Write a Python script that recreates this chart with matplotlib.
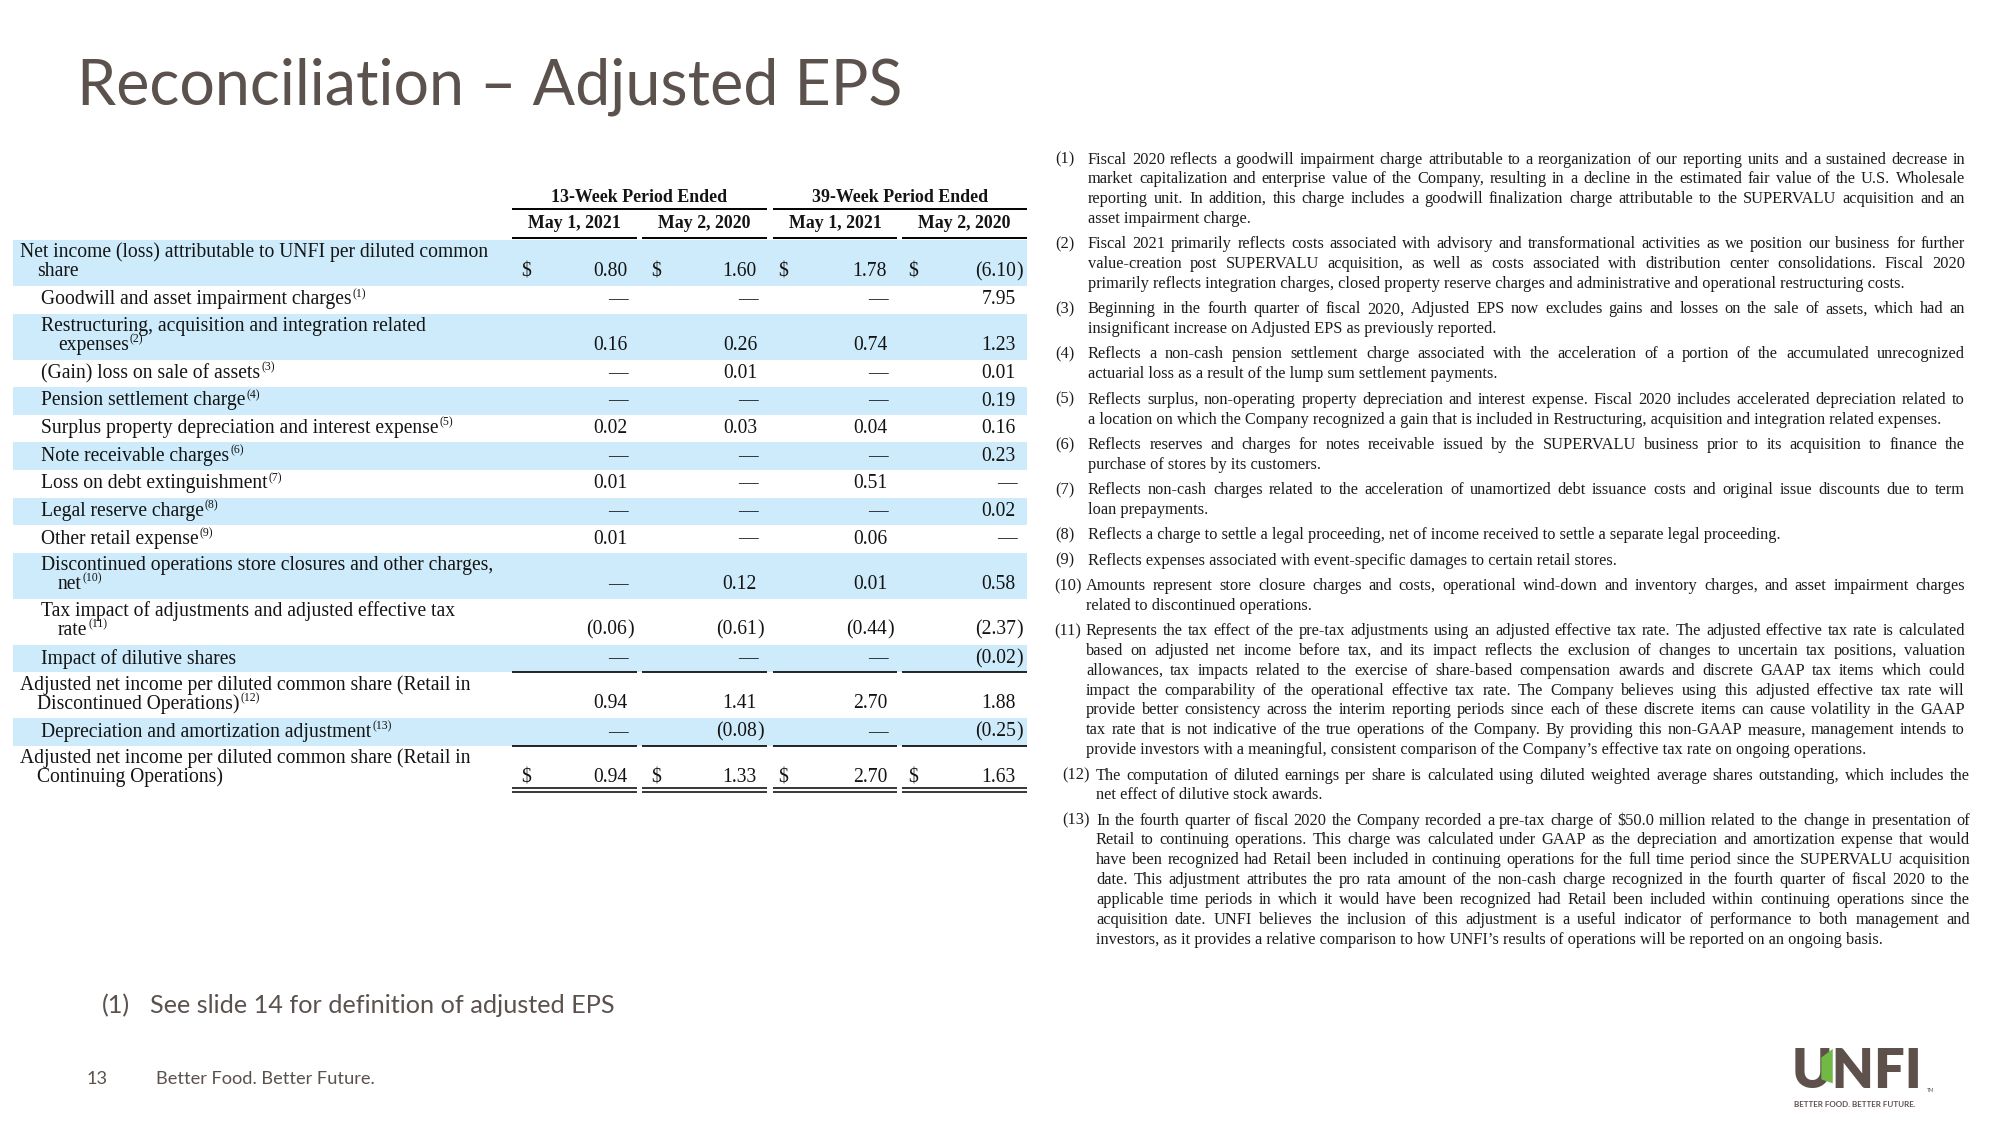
import matplotlib
matplotlib.use("Agg")
import matplotlib.pyplot as plt
from matplotlib.font_manager import FontProperties
from matplotlib.patches import Rectangle, Polygon

# ---- data -------------------------------------------------------------
title = "Reconciliation \u2013 Adjusted EPS"

period_heads = ["13-Week Period Ended", "39-Week Period Ended"]
date_heads = ["May 1, 2021", "May 2, 2020", "May 1, 2021", "May 2, 2020"]

row_labels = [
    "Net income (loss) attributable to UNFI per diluted common\nshare",
    "Goodwill and asset impairment charges",
    "Restructuring, acquisition and integration related\nexpenses",
    "(Gain) loss on sale of assets",
    "Pension settlement charge",
    "Surplus property depreciation and interest expense",
    "Note receivable charges",
    "Loss on debt extinguishment",
    "Legal reserve charge",
    "Other retail expense",
    "Discontinued operations store closures and other charges,\nnet",
    "Tax impact of adjustments and adjusted effective tax\nrate",
    "Impact of dilutive shares",
    "Adjusted net income per diluted common share (Retail in\nDiscontinued Operations)",
    "Depreciation and amortization adjustment",
    "Adjusted net income per diluted common share (Retail in\nContinuing Operations)",
]
row_notes = ["", "1", "2", "3", "4", "5", "6", "7", "8", "9", "10", "11", "", "12", "13", ""]
row_level = [0, 1, 1, 1, 1, 1, 1, 1, 1, 1, 1, 1, 1, 0, 1, 0]

D = "\u2014"
wk13_2021 = ["0.80", D, "0.16", D, D, "0.02", D, "0.01", D, "0.01", D, "(0.06)", D, "0.94", D, "0.94"]
wk13_2020 = ["1.60", D, "0.26", "0.01", D, "0.03", D, D, D, D, "0.12", "(0.61)", D, "1.41", "(0.08)", "1.33"]
wk39_2021 = ["1.78", D, "0.74", D, D, "0.04", D, "0.51", D, "0.06", "0.01", "(0.44)", D, "2.70", D, "2.70"]
wk39_2020 = ["(6.10)", "7.95", "1.23", "0.01", "0.19", "0.16", "0.23", D, "0.02", D, "0.58", "(2.37)", "(0.02)", "1.88", "(0.25)", "1.63"]
dollar_rows = [0, 15]

footnotes = [
    ["Fiscal 2020 reflects a goodwill impairment charge attributable to a reorganization of our reporting units and a sustained decrease in",
     "market capitalization and enterprise value of the Company, resulting in a decline in the estimated fair value of the U.S. Wholesale",
     "reporting unit. In addition, this charge includes a goodwill finalization charge attributable to the SUPERVALU acquisition and an",
     "asset impairment charge."],
    ["Fiscal 2021 primarily reflects costs associated with advisory and transformational activities as we position our business for further",
     "value-creation post SUPERVALU acquisition, as well as costs associated with distribution center consolidations. Fiscal 2020",
     "primarily reflects integration charges, closed property reserve charges and administrative and operational restructuring costs."],
    ["Beginning in the fourth quarter of fiscal 2020, Adjusted EPS now excludes gains and losses on the sale of assets, which had an",
     "insignificant increase on Adjusted EPS as previously reported."],
    ["Reflects a non-cash pension settlement charge associated with the acceleration of a portion of the accumulated unrecognized",
     "actuarial loss as a result of the lump sum settlement payments."],
    ["Reflects surplus, non-operating property depreciation and interest expense. Fiscal 2020 includes accelerated depreciation related to",
     "a location on which the Company recognized a gain that is included in Restructuring, acquisition and integration related expenses."],
    ["Reflects reserves and charges for notes receivable issued by the SUPERVALU business prior to its acquisition to finance the",
     "purchase of stores by its customers."],
    ["Reflects non-cash charges related to the acceleration of unamortized debt issuance costs and original issue discounts due to term",
     "loan prepayments."],
    ["Reflects a charge to settle a legal proceeding, net of income received to settle a separate legal proceeding."],
    ["Reflects expenses associated with event-specific damages to certain retail stores."],
    ["Amounts represent store closure charges and costs, operational wind-down and inventory charges, and asset impairment charges",
     "related to discontinued operations."],
    ["Represents the tax effect of the pre-tax adjustments using an adjusted effective tax rate. The adjusted effective tax rate is calculated",
     "based on adjusted net income before tax, and its impact reflects the exclusion of changes to uncertain tax positions, valuation",
     "allowances, tax impacts related to the exercise of share-based compensation awards and discrete GAAP tax items which could",
     "impact the comparability of the operational effective tax rate. The Company believes using this adjusted effective tax rate will",
     "provide better consistency across the interim reporting periods since each of these discrete items can cause volatility in the GAAP",
     "tax rate that is not indicative of the true operations of the Company. By providing this non-GAAP measure, management intends to",
     "provide investors with a meaningful, consistent comparison of the Company\u2019s effective tax rate on ongoing operations."],
    ["The computation of diluted earnings per share is calculated using diluted weighted average shares outstanding, which includes the",
     "net effect of dilutive stock awards."],
    ["In the fourth quarter of fiscal 2020 the Company recorded a pre-tax charge of $50.0 million related to the change in presentation of",
     "Retail to continuing operations. This charge was calculated under GAAP as the depreciation and amortization expense that would",
     "have been recognized had Retail been included in continuing operations for the full time period since the SUPERVALU acquisition",
     "date. This adjustment attributes the pro rata amount of the non-cash charge recognized in the fourth quarter of fiscal 2020 to the",
     "applicable time periods in which it would have been recognized had Retail been included within continuing operations since the",
     "acquisition date. UNFI believes the inclusion of this adjustment is a useful indicator of performance to both management and",
     "investors, as it provides a relative comparison to how UNFI\u2019s results of operations will be reported on an ongoing basis."],
]

slide_note = "See slide 14 for definition of adjusted EPS"
page_no = "13"
tagline = "Better Food. Better Future."

# ---- styles -----------------------------------------------------------
SERIF = "Liberation Serif"
SANS = "Lato"
GREY = "#5B524E"
INK = "#141414"
BAND = "#CDEBFA"
BROWN = "#5E514C"
LEAF = "#72B844"

W, H = 2000, 1125
fig = plt.figure(figsize=(20, 11.25), dpi=100)
ax = fig.add_axes([0, 0, 1, 1])
ax.set_xlim(0, W)
ax.set_ylim(H, 0)
ax.axis("off")
rend = fig.canvas.get_renderer()


def tw(s, size, family=SERIF, weight="normal"):
    fp = FontProperties(family=family, size=size, weight=weight)
    return rend.get_text_width_height_descent(s, fp, ismath=False)[0]


def fit(s, target, family=SERIF, weight="normal"):
    return 10 * target / tw(s, 10, family, weight)


def txt(x, y, s, size, family=SERIF, **kw):
    kw.setdefault("va", "center")
    kw.setdefault("color", INK)
    return ax.text(x, y, s, fontsize=size, family=family, parse_math=False, **kw)


# ---- slide title and footer ------------------------------------------
ts = fit(title, 826, SANS)
txt(77, 105, title, ts, SANS, va="baseline", color=GREY)

ns = fit(slide_note, 466, SANS)
txt(102, 1013, "(1)", ns, SANS, va="baseline", color=GREY)
txt(150, 1013, slide_note, ns, SANS, va="baseline", color=GREY)

fs = fit(tagline, 220, SANS)
txt(87, 1084, page_no, fs, SANS, va="baseline", color=GREY)
txt(156, 1084, tagline, fs, SANS, va="baseline", color=GREY)

# logo: brown letters, green leaf on the right arm of the U
ub = 1088
ls = fit("UNFI", 131, SANS, "heavy")
txt(1792, ub, "UNFI", ls, SANS, va="baseline", color=BROWN, weight="heavy")
uw = tw("U", ls, SANS, "heavy")
cap = 0.72 * ls * 100 / 72
xl, xr = 1792 + 0.72 * uw, 1792 + 1.0 * uw
ax.add_patch(Polygon([(xl, ub - 0.22 * cap), (xl, ub - 0.78 * cap), (xr, ub - 1.0 * cap),
                      (xr, ub - 0.12 * cap)], closed=True, color=LEAF, lw=0, zorder=5))
txt(1927, 1092, "TM", 3.5, SANS, va="baseline", color=BROWN)
bs = fit("BETTER FOOD. BETTER FUTURE.", 122, SANS, "bold")
txt(1794, 1107, "BETTER FOOD. BETTER FUTURE.", bs, SANS, va="baseline",
    color=BROWN, weight="bold")

# ---- table ------------------------------------------------------------
col_spans = [(512, 637), (642, 767), (773, 897), (902, 1027)]
col_right = [627, 757, 887, 1016]
col_dollar = [521, 651, 778, 908]
columns = [wk13_2021, wk13_2020, wk39_2021, wk39_2020]

hs = fit(period_heads[0], 176, SERIF, "bold")
for k, head in enumerate(period_heads):
    x0, x1 = col_spans[2 * k][0], col_spans[2 * k + 1][1]
    txt((x0 + x1) / 2, 197, head, hs, ha="center", weight="bold")
    ax.plot([x0, x1], [208.5, 208.5], color="black", lw=1.4, solid_capstyle="butt")
for k, head in enumerate(date_heads):
    x0, x1 = col_spans[k]
    txt((x0 + x1) / 2, 223, head, hs, ha="center", weight="bold")
    ax.plot([x0, x1], [237.5, 237.5], color="black", lw=1.4, solid_capstyle="butt")

lab_size = fit("Net income (loss) attributable to UNFI per diluted common", 468)
sup_size = lab_size * 0.6
y = 240
for i, lab in enumerate(row_labels):
    lines = lab.split("\n")
    h = 46 if len(lines) == 2 else 27.6
    if i % 2 == 0:
        ax.add_patch(Rectangle((13, y), 1027 - 13, h, color=BAND, lw=0, zorder=0))
    x_first = 20 if row_level[i] == 0 else 41
    x_cont = x_first + 17
    if len(lines) == 2:
        ys = [y + 12.5, y + 31.5]
    else:
        ys = [y + h / 2]
    for j, (line, ly) in enumerate(zip(lines, ys)):
        lx = x_first if j == 0 else x_cont
        txt(lx, ly, line, lab_size)
    if row_notes[i]:
        sx = (x_first if len(lines) == 1 else x_cont) + tw(lines[-1], lab_size) + 1
        txt(sx, ys[-1] - 6, "(" + row_notes[i] + ")", sup_size)
    vy = ys[-1]
    for c, vals in enumerate(columns):
        v = vals[i]
        if v.startswith("("):
            txt(col_right[c], vy, v[:-1], lab_size, ha="right")
            txt(col_right[c], vy, ")", lab_size, ha="left")
        else:
            txt(col_right[c] + (1 if v == D else 0), vy, v, lab_size, ha="right")
        if i in dollar_rows:
            txt(col_dollar[c], vy, "$", lab_size, ha="left")
    y += h
    # rules below subtotal rows
    if i in (12, 14):
        for x0, x1 in col_spans:
            ax.plot([x0, x1], [y, y], color="black", lw=1.2, solid_capstyle="butt")
    if i == 15:
        for x0, x1 in col_spans:
            for yy in (787.5, 792):
                ax.plot([x0, x1], [yy, yy], color="black", lw=1.1, solid_capstyle="butt")

# ---- footnotes --------------------------------------------------------
full_lines = [p[k] for p in footnotes for k in range(len(p) - 1)]
widest = max(tw(s, 10) for s in full_lines)
fn_size = 10 * 0.985 * (1965 - 1088) / widest
fp_fn = FontProperties(family=SERIF, size=fn_size)


def justified(x0, x1, yy, line, last):
    words = line.split(" ")
    if last or len(words) == 1:
        txt(x0, yy, line, fn_size, color="#1c1c1c")
        return
    ws = [rend.get_text_width_height_descent(w, fp_fn, ismath=False)[0] for w in words]
    gap = (x1 - x0 - sum(ws)) / (len(words) - 1)
    x = x0
    for w, wd in zip(words, ws):
        txt(x, yy, w, fn_size, color="#1c1c1c")
        x += wd + gap


y = 159.5
for n, para in enumerate(footnotes, start=1):
    if n <= 9:
        nx, x0, x1 = 1055, 1088, 1965
    elif n <= 11:
        nx, x0, x1 = 1054, 1086, 1965
    else:
        nx, x0, x1 = 1062, 1096, 1970
    txt(nx, y, "(%d)" % n, fn_size, color="#1c1c1c")
    for k, line in enumerate(para):
        justified(x0, x1, y + k * 19.8, line, k == len(para) - 1)
    y += len(para) * 19.8 + 5.6

fig.savefig("out.png", dpi=100)
